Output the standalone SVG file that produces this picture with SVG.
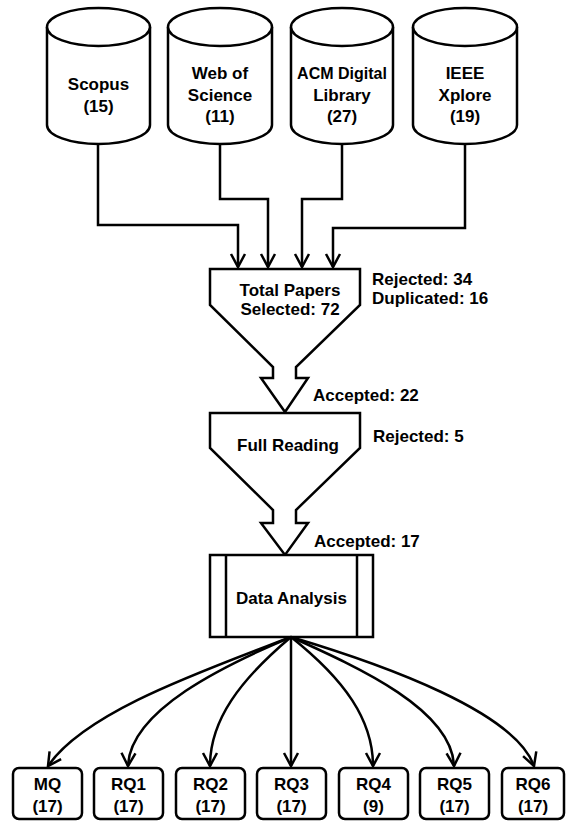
<svg xmlns="http://www.w3.org/2000/svg" width="566" height="822" viewBox="0 0 566 822">
<style>
.s{fill:#fff;stroke:#000;stroke-width:2.5;stroke-linejoin:miter}
.c{fill:none;stroke:#000;stroke-width:2.5}
.t{font-family:"Liberation Sans",Arial,sans-serif;font-weight:bold;font-size:17px;fill:#000}
.m{text-anchor:middle}
</style>
<defs>
<marker id="arr" markerUnits="userSpaceOnUse" markerWidth="20" markerHeight="20" viewBox="-16 -10 20 20" refX="0" refY="0" orient="auto" overflow="visible">
<path d="M-13,-7 L0,0 L-13,7" fill="none" stroke="#000" stroke-width="2.5"/>
</marker>
</defs>
<rect width="566" height="822" fill="#fff"/>
<g id="scopus">
<path class="s" d="M47,27 V125 A51.5,19 0 0 0 150,125 V27"/>
<ellipse class="s" cx="98.5" cy="27" rx="51.5" ry="19"/>
<text class="t m" x="98.5" y="90">Scopus</text>
<text class="t m" x="98.5" y="112">(15)</text>
</g>
<g id="wos">
<path class="s" d="M168,27 V125 A52,19 0 0 0 272,125 V27"/>
<ellipse class="s" cx="220" cy="27" rx="52" ry="19"/>
<text class="t m" x="220" y="79">Web of</text>
<text class="t m" x="220" y="101">Science</text>
<text class="t m" x="220" y="122">(11)</text>
</g>
<g id="acm">
<path class="s" d="M291,27 V125 A51,19 0 0 0 393,125 V27"/>
<ellipse class="s" cx="342" cy="27" rx="51" ry="19"/>
<text class="t m" x="342" y="79" style="font-size:16px">ACM Digital</text>
<text class="t m" x="342" y="101">Library</text>
<text class="t m" x="342" y="122">(27)</text>
</g>
<g id="ieee">
<path class="s" d="M413,27 V125 A52,19 0 0 0 517,125 V27"/>
<ellipse class="s" cx="465" cy="27" rx="52" ry="19"/>
<text class="t m" x="465" y="79">IEEE</text>
<text class="t m" x="465" y="101">Xplore</text>
<text class="t m" x="465" y="122">(19)</text>
</g>
<g id="total">
<polygon class="s" points="210,269 360,269 360,305 296,367 296,378 308,378 285,412 261,378 273,378 273,367 210,305"/>
<text class="t m" x="290" y="296">Total Papers</text>
<text class="t m" x="290" y="315">Selected: 72</text>
</g>
<g id="fullreading">
<polygon class="s" points="210,413 360,413 360,448 296,510 296,523 308,523 285,555 261,523 273,523 273,510 210,448"/>
<text class="t m" x="288" y="451">Full Reading</text>
</g>
<g id="dataanalysis">
<rect class="s" x="210" y="555" width="163" height="82"/>
<line class="c" x1="226" y1="555" x2="226" y2="637"/>
<line class="c" x1="357" y1="555" x2="357" y2="637"/>
<text class="t m" x="291.5" y="604">Data Analysis</text>
</g>
<g id="labels">
<text class="t" x="372" y="285">Rejected: 34</text>
<text class="t" x="372" y="304">Duplicated: 16</text>
<text class="t" x="313" y="401">Accepted: 22</text>
<text class="t" x="373" y="442">Rejected: 5</text>
<text class="t" x="314" y="547">Accepted: 17</text>
</g>
<g id="q-mq"><rect class="s" x="13" y="768" width="69" height="51" rx="6"/><text class="t m" x="47.5" y="790">MQ</text><text class="t m" x="47.5" y="812">(17)</text></g>
<g id="q-rq1"><rect class="s" x="94" y="768" width="69" height="51" rx="6"/><text class="t m" x="128.5" y="790">RQ1</text><text class="t m" x="128.5" y="812">(17)</text></g>
<g id="q-rq2"><rect class="s" x="176" y="768" width="69" height="51" rx="6"/><text class="t m" x="210.5" y="790">RQ2</text><text class="t m" x="210.5" y="812">(17)</text></g>
<g id="q-rq3"><rect class="s" x="257" y="768" width="69" height="51" rx="6"/><text class="t m" x="291.5" y="790">RQ3</text><text class="t m" x="291.5" y="812">(17)</text></g>
<g id="q-rq4"><rect class="s" x="339" y="768" width="69" height="51" rx="6"/><text class="t m" x="373.5" y="790">RQ4</text><text class="t m" x="373.5" y="812">(9)</text></g>
<g id="q-rq5"><rect class="s" x="420" y="768" width="69" height="51" rx="6"/><text class="t m" x="454.5" y="790">RQ5</text><text class="t m" x="454.5" y="812">(17)</text></g>
<g id="q-rq6"><rect class="s" x="502" y="768" width="62" height="51" rx="6"/><text class="t m" x="533" y="790">RQ6</text><text class="t m" x="533" y="812">(17)</text></g>
<g id="connectors">
<path class="c" marker-end="url(#arr)" d="M98,144 V225 H238 V267"/>
<path class="c" marker-end="url(#arr)" d="M220,144 V199 H268 V267"/>
<path class="c" marker-end="url(#arr)" d="M342,144 V199 H302 V267"/>
<path class="c" marker-end="url(#arr)" d="M465,144 V228 H333 V267"/>
<path class="c" marker-end="url(#arr)" d="M291,637 C200,672 85,712 48,766"/>
<path class="c" marker-end="url(#arr)" d="M291,637 C225,665 130,710 128,766"/>
<path class="c" marker-end="url(#arr)" d="M291,637 C240,680 210,720 210,766"/>
<path class="c" marker-end="url(#arr)" d="M291,637 L291,766"/>
<path class="c" marker-end="url(#arr)" d="M291,637 C345,680 373,720 373,766"/>
<path class="c" marker-end="url(#arr)" d="M291,637 C360,668 452,710 454,766"/>
<path class="c" marker-end="url(#arr)" d="M291,637 C385,665 515,712 534,766"/>
</g>
</svg>
